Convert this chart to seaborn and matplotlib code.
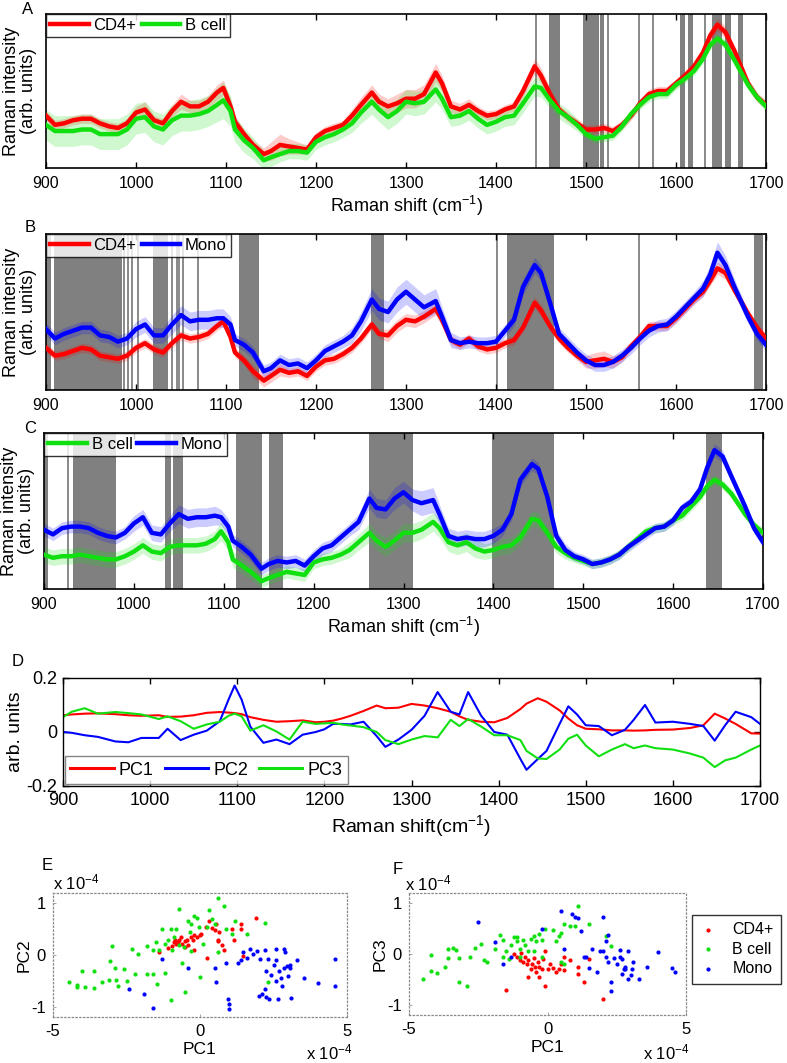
import numpy as np
import pandas as pd
import matplotlib
matplotlib.use("Agg")
import matplotlib.pyplot as plt
import seaborn as sns

plt.rcParams['font.family'] = ['Liberation Sans', 'DejaVu Sans']
plt.rcParams['mathtext.fontset'] = 'custom'
plt.rcParams['mathtext.rm'] = 'Liberation Sans'
plt.rcParams['mathtext.it'] = 'Liberation Sans:italic'

# ---------------- data: mean spectra (A-C), arbitrary units 0-100 ----------------
shift = [900, 910, 920, 930, 940, 950, 960, 970, 980, 990,
         1000, 1010, 1020, 1030, 1040, 1050, 1060, 1070, 1080, 1090,
         1097, 1105, 1110, 1120, 1130, 1142, 1150, 1160, 1170, 1180,
         1190, 1200, 1210, 1220, 1230, 1240, 1250, 1262, 1270, 1280,
         1290, 1300, 1310, 1320, 1333, 1340, 1350, 1360, 1370, 1380,
         1390, 1400, 1410, 1420, 1430, 1443, 1450, 1460, 1470, 1480,
         1490, 1500, 1510, 1520, 1530, 1540, 1550, 1560, 1570, 1580,
         1590, 1600, 1610, 1620, 1630, 1638, 1646, 1655, 1665, 1680,
         1690, 1700]

a_cd4 = [34, 28, 29, 31, 32, 32, 29, 27, 26, 29,
         36, 38, 31, 29, 37, 43, 40, 40, 43, 49,
         52, 40, 30, 22, 15, 9, 11, 15, 14, 13,
         12, 20, 24, 26, 28, 34, 41, 49, 43, 40,
         42, 45, 45, 48, 62, 55, 40, 38, 41, 37,
         34, 35, 38, 40, 50, 66, 60, 48, 38, 33,
         29, 25, 25, 26, 24, 28, 34, 42, 48, 50,
         50, 55, 60, 66, 75, 86, 93, 88, 76, 55,
         46, 41]
a_cd4_sd = [3, 3, 3, 3, 3, 3, 3, 3, 3, 3,
            4, 5, 3, 3, 4, 5, 4, 4, 4, 5,
            5, 5, 4, 3, 3, 4, 6, 7, 5, 4,
            3, 3, 3, 3, 3, 4, 5, 5, 5, 5,
            6, 6, 6, 6, 6, 5, 4, 4, 4, 3,
            3, 3, 3, 3, 4, 5, 5, 4, 3, 3,
            3, 3, 3, 3, 3, 3, 3, 3, 3, 3,
            3, 3, 3, 3, 3, 4, 4, 4, 3, 3,
            3, 3]
a_bcell = [28, 24, 24, 24, 25, 25, 22, 22, 22, 25,
           32, 33, 27, 25, 31, 34, 34, 35, 37, 41,
           44, 37, 25, 18, 13, 5, 7, 9, 11, 11,
           10, 17, 20, 22, 25, 29, 36, 43, 38, 33,
           37, 43, 42, 43, 51, 45, 33, 34, 37, 32,
           28, 30, 33, 34, 42, 53, 52, 44, 37, 33,
           28, 22, 19, 20, 21, 27, 35, 41, 46, 48,
           48, 54, 58, 63, 71, 80, 84, 80, 70, 54,
           46, 40]
a_bcell_sd = [10, 10, 10, 10, 10, 10, 10, 10, 10, 10,
              10, 10, 10, 10, 10, 10, 10, 10, 10, 11,
              12, 10, 8, 8, 7, 6, 6, 5, 5, 5,
              5, 5, 5, 5, 5, 6, 7, 8, 8, 8,
              8, 8, 8, 8, 8, 7, 6, 6, 6, 6,
              6, 6, 6, 6, 6, 6, 6, 5, 5, 5,
              4, 3, 3, 3, 3, 3, 3, 3, 3, 3,
              3, 3, 3, 3, 3, 3, 3, 3, 3, 3,
              3, 3]

b_cd4 = [27, 22, 23, 25, 27, 26, 22, 21, 20, 22,
         27, 30, 26, 24, 30, 35, 33, 34, 36, 41,
         44, 34, 24, 19, 12, 6, 9, 13, 11, 12,
         9, 15, 19, 20, 23, 27, 33, 42, 36, 35,
         41, 45, 44, 47, 52, 45, 32, 29, 33, 28,
         26, 27, 30, 32, 40, 56, 51, 41, 33, 27,
         22, 18, 19, 20, 18, 21, 28, 34, 41, 41,
         41, 46, 52, 58, 63, 70, 78, 75, 64, 49,
         40, 33]
b_cd4_sd = [3, 3, 3, 3, 3, 3, 3, 3, 3, 3,
            3, 3, 3, 3, 3, 3, 3, 3, 3, 3,
            3, 3, 3, 3, 4, 4, 4, 4, 3, 3,
            3, 3, 3, 3, 3, 3, 3, 3, 3, 4,
            4, 4, 4, 4, 4, 4, 3, 3, 3, 3,
            3, 3, 3, 3, 3, 4, 4, 3, 3, 3,
            3, 4, 5, 5, 4, 3, 3, 3, 3, 3,
            3, 3, 3, 3, 3, 3, 4, 4, 3, 3,
            3, 3]
b_mono = [39, 33, 36, 38, 40, 40, 35, 34, 31, 33,
          39, 42, 35, 35, 42, 48, 44, 45, 45, 46,
          46, 42, 32, 29, 24, 12, 14, 19, 16, 17,
          14, 19, 25, 28, 31, 35, 44, 58, 52, 50,
          58, 63, 58, 53, 57, 47, 32, 30, 31, 30,
          30, 31, 38, 45, 66, 80, 75, 56, 36, 30,
          24, 19, 16, 16, 18, 22, 27, 33, 38, 41,
          42, 47, 53, 59, 65, 74, 88, 80, 66, 47,
          36, 29]
b_mono_sd = [4, 4, 4, 4, 4, 4, 4, 4, 4, 4,
             5, 5, 5, 5, 6, 6, 6, 6, 6, 6,
             6, 5, 4, 4, 4, 4, 4, 4, 4, 4,
             4, 4, 4, 4, 4, 5, 6, 7, 7, 7,
             8, 8, 8, 8, 8, 6, 5, 4, 4, 4,
             4, 4, 4, 4, 5, 5, 5, 4, 4, 4,
             4, 4, 4, 4, 4, 4, 4, 4, 4, 4,
             4, 4, 4, 4, 5, 6, 7, 6, 5, 4,
             4, 4]

c_bcell = [22, 20, 21, 21, 22, 21, 20, 19, 19, 21,
           24, 28, 24, 23, 27, 28, 28, 28, 29, 32,
           37, 30, 19, 15, 11, 5, 7, 9, 11, 10,
           9, 17, 19, 20, 22, 25, 30, 36, 31, 27,
           31, 36, 36, 38, 43, 39, 30, 28, 30, 26,
           24, 25, 27, 28, 33, 45, 44, 36, 27, 23,
           20, 18, 16, 17, 19, 22, 27, 32, 37, 39,
           40, 44, 47, 53, 59, 66, 70, 67, 61, 48,
           41, 36]
c_bcell_sd = [5, 5, 5, 5, 5, 5, 5, 5, 5, 5,
              5, 5, 5, 5, 5, 5, 5, 5, 5, 5,
              6, 5, 5, 5, 5, 4, 4, 4, 4, 4,
              4, 4, 4, 4, 4, 5, 5, 6, 6, 6,
              6, 6, 6, 6, 6, 6, 6, 6, 6, 6,
              5, 5, 5, 5, 5, 5, 5, 4, 4, 4,
              3, 3, 3, 3, 3, 3, 3, 3, 3, 3,
              3, 3, 3, 3, 3, 3, 3, 3, 3, 3,
              3, 3]
c_mono = [38, 35, 39, 40, 40, 39, 36, 34, 33, 36,
          42, 46, 36, 35, 42, 48, 45, 46, 46, 47,
          46, 40, 31, 27, 22, 13, 16, 18, 17, 18,
          15, 21, 26, 28, 33, 38, 43, 58, 52, 51,
          58, 62, 57, 55, 57, 48, 34, 32, 33, 32,
          32, 34, 38, 48, 70, 80, 77, 59, 34, 25,
          21, 19, 16, 17, 19, 22, 27, 31, 35, 39,
          40, 44, 52, 56, 64, 78, 89, 85, 72, 53,
          39, 30]
c_mono_sd = [4, 4, 4, 4, 4, 4, 4, 4, 4, 4,
             5, 5, 5, 5, 5, 6, 6, 6, 6, 6,
             5, 5, 4, 4, 4, 4, 4, 4, 4, 4,
             4, 4, 4, 4, 4, 4, 5, 6, 6, 6,
             7, 7, 7, 8, 8, 6, 5, 5, 5, 5,
             5, 5, 4, 4, 4, 4, 4, 4, 4, 4,
             3, 3, 3, 3, 3, 3, 3, 3, 3, 3,
             3, 3, 3, 3, 3, 4, 4, 4, 3, 3,
             3, 3]

# significant regions (cm-1): wide bands and single lines
a_bands = [(1459, 1471), (1497, 1514), (1515.5, 1520), (1604, 1610), (1613, 1619),
           (1640, 1651), (1654, 1661), (1669, 1674)]
a_lines = [1444, 1524, 1559, 1574, 1632]
b_bands = [(900, 906), (909, 984), (1019, 1036), (1114, 1137), (1261, 1276),
           (1412, 1464), (1687, 1697)]
b_lines = [987, 991, 996, 1002, 1040, 1045, 1048, 1052, 1069, 1401, 1559]
c_bands = [(900, 905), (932, 980), (1035, 1041), (1044, 1055), (1114, 1143),
           (1150, 1166), (1262, 1311), (1399, 1468), (1637, 1654)]
c_lines = [927]

# ---------------- data: PCA loadings (D) ----------------
d_shift = [900, 910, 925, 940, 960, 975, 990, 1010, 1020, 1035,
           1050, 1065, 1080, 1090, 1097, 1105, 1115, 1130, 1145, 1160,
           1175, 1190, 1200, 1210, 1220, 1230, 1245, 1260, 1270, 1285,
           1300, 1315, 1330, 1345, 1355, 1365, 1380, 1395, 1410, 1425,
           1432, 1445, 1455, 1470, 1480, 1490, 1500, 1515, 1530, 1545,
           1555, 1568, 1580, 1600, 1620, 1635, 1648, 1660, 1672, 1690,
           1700]
pc1 = [0.062, 0.065, 0.068, 0.069, 0.066, 0.062, 0.060, 0.062, 0.056, 0.057,
       0.062, 0.071, 0.074, 0.072, 0.070, 0.066, 0.055, 0.045, 0.038, 0.040,
       0.043, 0.036, 0.038, 0.042, 0.050, 0.060, 0.078, 0.098, 0.088, 0.090,
       0.104, 0.098, 0.088, 0.075, 0.058, 0.045, 0.038, 0.036, 0.052, 0.085,
       0.105, 0.125, 0.112, 0.080, 0.050, 0.025, 0.012, 0.010, 0.006, 0.006,
       0.005, 0.006, 0.008, 0.009, 0.015, 0.025, 0.068, 0.050, 0.030, -0.005,
       -0.006]
pc2 = [0.000, -0.003, -0.012, -0.018, -0.035, -0.038, -0.022, -0.022, 0.012, -0.030,
       -0.010, 0.005, 0.040, 0.120, 0.172, 0.120, 0.020, -0.040, -0.028, -0.045,
       -0.010, 0.000, 0.010, 0.030, 0.030, 0.028, 0.038, -0.015, -0.055, -0.028,
       0.008, 0.060, 0.148, 0.075, 0.065, 0.148, 0.060, 0.000, -0.010, -0.100,
       -0.140, -0.100, -0.070, 0.030, 0.095, 0.065, 0.025, 0.022, -0.012, 0.008,
       0.045, 0.100, 0.035, 0.038, 0.030, 0.022, -0.032, 0.025, 0.075, 0.055,
       0.030]
pc3 = [0.055, 0.075, 0.088, 0.068, 0.074, 0.070, 0.065, 0.048, 0.058, 0.040,
       0.012, 0.028, 0.038, 0.060, 0.068, 0.058, 0.005, 0.025, 0.002, -0.028,
       0.038, 0.030, 0.032, 0.034, 0.028, 0.024, 0.018, 0.000, -0.030, -0.045,
       -0.028, -0.015, -0.020, 0.045, 0.022, 0.048, 0.020, -0.012, -0.012, -0.030,
       -0.070, -0.098, -0.100, -0.065, -0.025, -0.010, -0.050, -0.090, -0.065, -0.045,
       -0.060, -0.050, -0.060, -0.065, -0.080, -0.095, -0.130, -0.105, -0.095, -0.065,
       -0.050]

# ---------------- data: PCA scores (E, F), units of 1e-4 ----------------
cd4_e_pc1 = [-1.4, -1.1, -0.95, -0.9, -0.85, -0.8, -0.75, -0.7, -0.65, -0.6,
             -0.5, -0.5, -0.45, -0.4, -0.3, -0.25, -0.2, -0.2, -0.1, 0.0,
             0.05, 0.2, 0.25, 0.3, 0.4, 0.5, 0.55, 0.6, 0.6, 0.65,
             0.75, 0.8, 1.1, 1.15, 1.4, 1.4, 1.45, 1.9]
cd4_e_pc2 = [0.05, 0.13, 0.18, 0.25, 0.3, 0.22, 0.25, 0.3, 0.35, 0.22,
             0.27, 0.15, 0.3, 0.2, 0.35, 0.3, 0.38, 0.1, 0.35, 0.38,
             0.4, 0.55, -0.05, 0.65, 0.52, 0.48, 0.6, 0.3, 0.28, 0.45,
             0.2, 0.1, 0.5, 0.3, 0.6, 0.5, -0.02, 0.72]
bcell_e_pc1 = [-4.45, -4.2, -4.2, -4.0, -3.9, -3.6, -3.6, -3.35, -3.1, -3.05,
               -3.0, -2.9, -2.85, -2.8, -2.6, -2.5, -2.3, -2.2, -2.1, -1.8,
               -1.8, -1.6, -1.6, -1.5, -1.45, -1.4, -1.3, -1.2, -1.2, -1.1,
               -1.0, -1.0, -0.95, -0.9, -0.8, -0.7, -0.7, -0.6, -0.55, -0.5,
               -0.4, -0.35, -0.3, -0.3, -0.2, -0.1, -0.05, 0.0, 0.1, 0.25,
               0.3, 0.4, 0.5, 0.6, 0.6, 0.8, 0.9, 1.1, 1.2, 1.6,
               2.2, 2.3]
bcell_e_pc2 = [-0.53, -0.58, -0.62, -0.3, -0.62, -0.3, -0.63, -0.53, -0.48, -0.12,
               0.17, -0.25, -0.48, -0.6, -0.27, -0.5, 0.12, -0.37, 0.02, 0.18,
               -0.37, -0.37, 0.1, 0.25, -0.57, 0.1, 0.5, -0.35, 0.22, 0.3,
               0.5, -0.88, 0.1, 0.35, 0.5, 0.2, 0.9, -0.15, 0.15, -0.72,
               0.65, 0.45, 0.08, 0.6, 0.75, 0.72, 0.55, -0.43, 0.22, 0.55,
               0.88, 0.7, 0.6, 0.05, 1.1, 0.95, 0.5, 0.4, 0.65, 0.4,
               0.62, -0.52]
mono_e_pc1 = [-2.4, -1.9, -1.6, -1.3, -0.4, 0.5, 0.55, 0.9, 0.95, 1.0,
              1.0, 1.3, 1.4, 1.45, 1.6, 1.7, 1.8, 1.95, 2.0, 2.05,
              2.1, 2.2, 2.2, 2.25, 2.25, 2.3, 2.35, 2.4, 2.5, 2.6,
              2.6, 2.6, 2.65, 2.7, 2.75, 2.8, 2.85, 2.85, 2.9, 2.95,
              3.0, 3.05, 3.05, 3.1, 3.3, 3.55, 4.0, 4.6, 4.6]
mono_e_pc2 = [-0.65, -0.75, -1.03, -0.07, -0.25, -0.25, -0.52, -0.15, -0.85, -0.95,
              -1.05, -0.15, -0.1, 0.05, -0.05, 0.12, 0.02, 0.08, -0.8, -0.07,
              -0.75, 0.1, -0.65, -0.3, -0.82, -0.08, -0.85, -0.38, -0.2, -0.1,
              0.12, -0.5, -0.85, -0.3, -0.45, -0.6, -0.25, 0.12, 0.05, -0.22,
              -0.4, -0.25, -0.2, -0.83, -0.1, -0.45, -0.55, -0.6, -0.08]

cd4_f_pc1 = [-1.5, -1.2, -1.1, -1.0, -0.95, -0.9, -0.8, -0.75, -0.7, -0.7,
             -0.6, -0.55, -0.5, -0.45, -0.4, -0.35, -0.3, -0.3, -0.2, -0.15,
             -0.1, -0.1, 0.0, 0.1, 0.2, 0.3, 0.4, 0.5, 0.6, 0.6,
             0.8, 1.1, 1.1, 1.3, 1.5, 2.0]
cd4_f_pc3 = [-0.7, 0.0, -0.05, -0.12, 0.02, -0.15, -0.05, -0.2, -0.12, -0.45,
             -0.3, -0.2, -0.08, -0.25, -0.35, -0.15, -0.25, -0.45, -0.3, -0.1,
             0.05, -0.62, -0.3, -0.2, -0.28, -0.35, -0.3, -0.2, -0.32, -0.05,
             -0.12, -0.25, -0.4, -0.55, -0.1, -0.88]
bcell_f_pc1 = [-4.5, -4.2, -4.2, -4.0, -3.7, -3.6, -3.6, -3.4, -3.3, -3.2,
               -3.2, -2.9, -2.8, -2.6, -2.4, -2.3, -2.2, -1.9, -1.7, -1.6,
               -1.6, -1.5, -1.4, -1.3, -1.2, -1.1, -1.1, -1.0, -1.0, -0.9,
               -0.8, -0.7, -0.6, -0.5, -0.5, -0.4, -0.3, -0.2, -0.2, -0.1,
               0.2, 0.3, 0.4, 0.5, 0.5, 0.6, 0.6, 0.8, 1.0, 1.1,
               1.5, 2.1, 2.3]
bcell_f_pc3 = [-0.5, -0.33, -0.02, -0.38, -0.25, 0.1, -0.08, 0.12, 0.07, -0.07,
               -0.55, -0.62, -0.05, 0.12, 0.2, -0.12, -0.15, 0.1, 0.38, 0.28,
               -0.05, 0.05, -0.1, 0.18, 0.33, 0.25, 0.33, 0.1, -0.05, 0.28,
               0.18, 0.05, 0.3, 0.35, 0.05, 0.25, 0.4, 0.28, -0.05, 0.5,
               0.48, 0.25, 0.35, 0.42, -0.15, 0.6, -0.2, 0.55, 0.55, 0.95,
               0.6, 0.35, 0.15]
mono_f_pc1 = [-2.5, -1.9, -1.6, -1.3, -0.2, 0.5, 0.6, 0.9, 1.0, 1.1,
              1.2, 1.3, 1.4, 1.5, 1.6, 1.8, 1.9, 2.0, 2.0, 2.1,
              2.1, 2.2, 2.2, 2.3, 2.3, 2.4, 2.5, 2.6, 2.6, 2.7,
              2.7, 2.75, 2.8, 2.8, 2.9, 2.9, 3.0, 3.05, 3.1, 3.3,
              3.6, 4.0, 4.5, 4.6]
mono_f_pc3 = [0.62, 0.23, -0.2, -0.05, 0.5, 0.85, 0.1, 0.78, 0.72, 0.7,
              0.45, -0.05, -0.05, -0.28, 0.1, -0.35, 0.05, 0.72, 0.05, 0.25,
              -0.05, 0.38, -0.15, -0.55, -0.72, -0.08, -0.2, 0.08, -0.05, -0.4,
              -0.1, -0.3, -0.25, -0.3, 0.05, -0.5, -0.42, -0.3, -0.15, -0.5,
              -0.25, 0.03, -0.27, -0.35]

RED = '#ff0000'
GREEN = '#10e010'
BLUE = '#0000ff'
GRAY = '#808080'
NARROW = ['Liberation Sans Narrow', 'Liberation Sans', 'DejaVu Sans']

W, H = 787, 1063
fig = plt.figure(figsize=(W / 100, H / 100), dpi=100)


def px_rect(left, top, right, bottom):
    return [left / W, 1 - bottom / H, (right - left) / W, (bottom - top) / H]


def letter(x, y, s):
    fig.text(x / W, 1 - y / H, s, fontsize=12, ha='center', va='center')


def spectrum_panel(rect, curves, bands, lines, xlabel):
    ax = fig.add_axes(rect)
    for lo, hi in bands:
        ax.axvspan(lo, hi, color=GRAY, lw=0, zorder=0)
    for pos in lines:
        ax.axvline(pos, color=GRAY, lw=1.3, zorder=0)
    for name, vals, sd, color in curves:
        v = np.array(vals, dtype=float)
        s = np.array(sd, dtype=float)
        ax.fill_between(shift, v - s, v + s, color=color, alpha=0.2, lw=0, zorder=1)
    for name, vals, sd, color in curves:
        sns.lineplot(x=shift, y=vals, color=color, lw=3.2, ax=ax, label=name, zorder=3)
    ax.set_xlim(900, 1700)
    ax.set_ylim(0, 100)
    ax.set_yticks([])
    ax.set_xticks(range(900, 1701, 100))
    ax.tick_params(axis='x', direction='in', top=True, length=4, width=1, labelsize=11.5, pad=6)
    for sp in ax.spines.values():
        sp.set_linewidth(1.2)
        sp.set_color('black')
    ax.set_ylabel('Raman intensity\n(arb. units)', fontsize=13, linespacing=1.0)
    ax.yaxis.set_label_coords(-0.012, 0.5)
    if xlabel:
        ax.set_xlabel('Raman shift (cm$^{-1}$)', fontsize=13, labelpad=2)
    else:
        ax.set_xlabel('')
    leg = ax.legend(loc='upper left', ncol=2, frameon=True, fancybox=False,
                    edgecolor='black', borderaxespad=0, fontsize=12,
                    handlelength=2.3, handletextpad=0.3, columnspacing=0.3,
                    borderpad=0.25)
    leg.get_frame().set_linewidth(1.0)
    for ln in leg.get_lines():
        ln.set_linewidth(3.2)
    return ax


# Panel A
spectrum_panel(px_rect(46, 14, 766, 168),
               [('CD4+', a_cd4, a_cd4_sd, RED), ('B cell', a_bcell, a_bcell_sd, GREEN)],
               a_bands, a_lines, True)
letter(28, 10, 'A')

# Panel B
spectrum_panel(px_rect(46, 234, 766, 390),
               [('CD4+', b_cd4, b_cd4_sd, RED), ('Mono', b_mono, b_mono_sd, BLUE)],
               b_bands, b_lines, False)
letter(30, 228, 'B')

# Panel C
spectrum_panel(px_rect(44, 433, 763, 589),
               [('B cell', c_bcell, c_bcell_sd, GREEN), ('Mono', c_mono, c_mono_sd, BLUE)],
               c_bands, c_lines, True)
letter(30, 428, 'C')

# Panel D - loadings
ax_d = fig.add_axes(px_rect(63, 678, 760, 786))
for name, vals, color in [('PC1', pc1, RED), ('PC2', pc2, BLUE), ('PC3', pc3, GREEN)]:
    sns.lineplot(x=d_shift, y=vals, color=color, lw=1.5, ax=ax_d, label=name)
ax_d.set_xlim(900, 1700)
ax_d.set_ylim(-0.2, 0.2)
ax_d.set_xticks(range(900, 1701, 100))
ax_d.set_yticks([-0.2, 0, 0.2])
ax_d.set_yticklabels(['-0.2', '0', '0.2'])
ax_d.tick_params(direction='in', top=True, right=True, length=4, width=1, labelsize=13, pad=4)
for lab in ax_d.get_xticklabels() + ax_d.get_yticklabels():
    lab.set_family(NARROW)
for sp in ax_d.spines.values():
    sp.set_linewidth(1.0)
ax_d.set_ylabel('arb. units', fontsize=14, family=NARROW, labelpad=2)
ax_d.set_xlabel('Raman shift(cm$^{-1}$)', fontsize=14, family=NARROW, labelpad=3)
leg_d = ax_d.legend(loc='lower left', ncol=3, frameon=True, fancybox=False,
                    edgecolor='#666666', borderaxespad=0.1, prop={'family': NARROW, 'size': 13},
                    handlelength=2.4, handletextpad=0.3, columnspacing=0.6, borderpad=0.3)
leg_d.get_frame().set_linewidth(1.0)
for ln in leg_d.get_lines():
    ln.set_linewidth(2.2)
letter(18, 662, 'D')


# Panels E and F - scores
def score_panel(rect, groups, ylab):
    ax = fig.add_axes(rect)
    for name, xs, ys, color in groups:
        df = pd.DataFrame({'x': xs, 'y': ys})
        sns.scatterplot(data=df, x='x', y='y', color=color, s=9, linewidth=0, ax=ax, label=name)
    ax.set_xlim(-5, 5)
    ax.set_ylim(-1.2, 1.2)
    ax.set_xticks([-5, 0, 5])
    ax.set_xticklabels(['-5', '0', '5'])
    ax.set_yticks([-1, 0, 1])
    ax.set_yticklabels(['-1', '0', '1'])
    ax.tick_params(direction='in', length=2, width=0.6, color='#999999', labelsize=12, pad=5)
    for sp in ax.spines.values():
        sp.set_linestyle((0, (1, 2)))
        sp.set_color('#888888')
        sp.set_linewidth(0.9)
    ax.set_xlabel('PC1', fontsize=12.5, labelpad=2)
    ax.set_ylabel(ylab, fontsize=12.5, labelpad=0)
    ax.get_legend().remove()
    return ax


ax_e = score_panel(px_rect(53, 893, 347, 1017),
                   [('CD4+', cd4_e_pc1, cd4_e_pc2, RED), ('B cell', bcell_e_pc1, bcell_e_pc2, GREEN),
                    ('Mono', mono_e_pc1, mono_e_pc2, BLUE)], 'PC2')
ax_f = score_panel(px_rect(409, 893, 686, 1015),
                   [('CD4+', cd4_f_pc1, cd4_f_pc3, RED), ('B cell', bcell_f_pc1, bcell_f_pc3, GREEN),
                    ('Mono', mono_f_pc1, mono_f_pc3, BLUE)], 'PC3')
handles, labels = ax_f.get_legend_handles_labels()
leg_f = ax_f.legend(handles, labels, loc='center left', bbox_to_anchor=(1.02, 0.54),
                    borderaxespad=0, frameon=True, fancybox=False, edgecolor='black',
                    fontsize=11.5, markerscale=1.0, handlelength=1.2, handletextpad=0.9,
                    borderpad=0.45, labelspacing=0.3)
leg_f.get_frame().set_linewidth(1.0)

letter(47, 866, 'E')
letter(398, 870, 'F')
for x, y in [(76, 882), (329, 1052), (428, 883), (666, 1052)]:
    fig.text(x / W, 1 - y / H, r'x 10$^{-4}$', fontsize=12, ha='center', va='center')

fig.savefig('out.png', dpi=100)
